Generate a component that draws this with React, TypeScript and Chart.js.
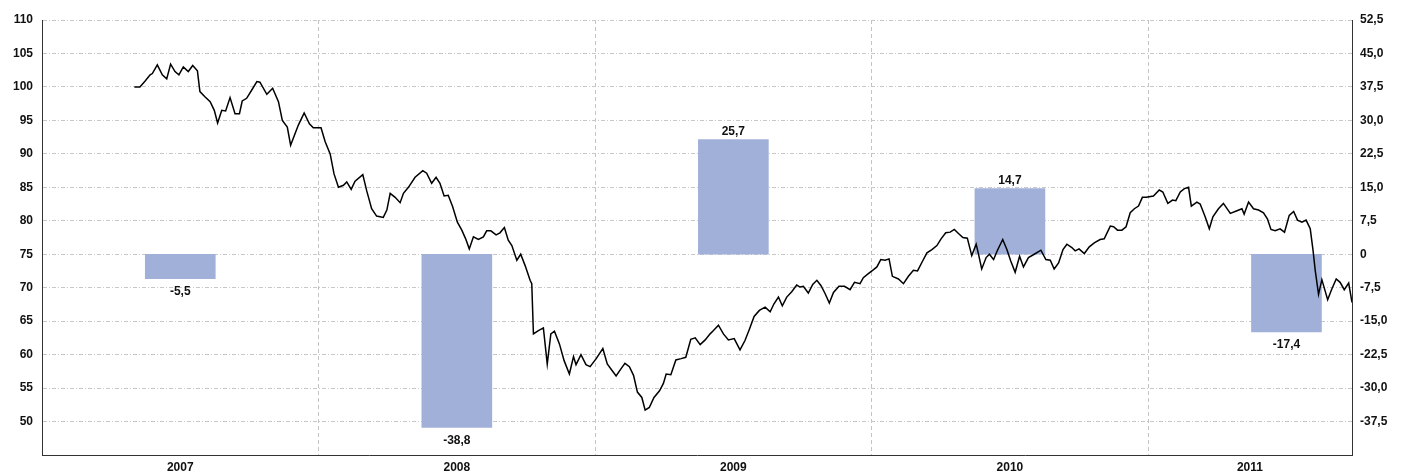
import React, { useEffect, useRef } from 'react';
import { Chart, registerables } from 'chart.js';
Chart.register(...registerables);

const lineYears = [
  2007.334, 2007.354, 2007.373, 2007.391, 2007.399, 2007.417, 2007.435, 2007.451, 2007.465, 2007.481,
  2007.495, 2007.511, 2007.529, 2007.545, 2007.562, 2007.571, 2007.590, 2007.608, 2007.623, 2007.635,
  2007.650, 2007.664, 2007.680, 2007.698, 2007.714, 2007.724, 2007.740, 2007.758, 2007.777, 2007.788,
  2007.813, 2007.834, 2007.855, 2007.869, 2007.887, 2007.899, 2007.927, 2007.948, 2007.967, 2007.981,
  2008.009, 2008.024, 2008.042, 2008.056, 2008.072, 2008.090, 2008.102, 2008.118, 2008.132, 2008.160,
  2008.174, 2008.192, 2008.210, 2008.234, 2008.247, 2008.259, 2008.277, 2008.295, 2008.307, 2008.325,
  2008.349, 2008.377, 2008.391, 2008.409, 2008.425, 2008.439, 2008.454, 2008.469, 2008.485, 2008.502,
  2008.518, 2008.532, 2008.545, 2008.560, 2008.578, 2008.596, 2008.608, 2008.623, 2008.642, 2008.656,
  2008.672, 2008.686, 2008.699, 2008.717, 2008.731, 2008.747, 2008.765, 2008.771, 2008.777, 2008.795,
  2008.813, 2008.827, 2008.840, 2008.853, 2008.871, 2008.888, 2008.907, 2008.922, 2008.931, 2008.949,
  2008.967, 2008.982, 2009.004, 2009.028, 2009.044, 2009.060, 2009.076, 2009.094, 2009.108, 2009.124,
  2009.139, 2009.153, 2009.169, 2009.181, 2009.196, 2009.213, 2009.233, 2009.247, 2009.257, 2009.274,
  2009.292, 2009.311, 2009.328, 2009.346, 2009.362, 2009.380, 2009.398, 2009.416, 2009.428, 2009.446,
  2009.464, 2009.482, 2009.503, 2009.524, 2009.542, 2009.558, 2009.575, 2009.594, 2009.615, 2009.633,
  2009.647, 2009.663, 2009.677, 2009.693, 2009.711, 2009.729, 2009.741, 2009.753, 2009.771, 2009.787,
  2009.802, 2009.817, 2009.832, 2009.847, 2009.862, 2009.882, 2009.902, 2009.922, 2009.938, 2009.958,
  2009.970, 2009.988, 2010.007, 2010.019, 2010.033, 2010.049, 2010.063, 2010.075, 2010.097, 2010.115,
  2010.133, 2010.151, 2010.166, 2010.182, 2010.200, 2010.218, 2010.236, 2010.251, 2010.268, 2010.284,
  2010.299, 2010.314, 2010.330, 2010.346, 2010.362, 2010.378, 2010.386, 2010.398, 2010.414, 2010.426,
  2010.441, 2010.455, 2010.474, 2010.489, 2010.503, 2010.519, 2010.535, 2010.549, 2010.567, 2010.588,
  2010.612, 2010.630, 2010.646, 2010.660, 2010.676, 2010.692, 2010.706, 2010.724, 2010.736, 2010.750,
  2010.769, 2010.787, 2010.805, 2010.826, 2010.841, 2010.863, 2010.875, 2010.889, 2010.905, 2010.920,
  2010.935, 2010.950, 2010.965, 2010.979, 2010.993, 2011.019, 2011.040, 2011.053, 2011.071, 2011.088,
  2011.100, 2011.116, 2011.131, 2011.146, 2011.156, 2011.176, 2011.188, 2011.206, 2011.221, 2011.234,
  2011.254, 2011.272, 2011.297, 2011.321, 2011.339, 2011.347, 2011.363, 2011.381, 2011.399, 2011.417,
  2011.431, 2011.444, 2011.459, 2011.477, 2011.493, 2011.510, 2011.526, 2011.540, 2011.556, 2011.571,
  2011.586, 2011.596, 2011.604, 2011.616, 2011.628, 2011.649, 2011.664, 2011.680, 2011.694, 2011.709,
  2011.725, 2011.737,
];

const lineValues = [
  100.0, 100.0, 100.9, 101.8, 102.0, 103.3, 101.8, 101.2, 103.4, 102.3,
  101.8, 103.0, 102.3, 103.2, 102.4, 99.3, 98.5, 97.8, 96.5, 94.6,
  96.5, 96.4, 98.4, 96.0, 96.0, 97.9, 98.3, 99.5, 100.8, 100.7,
  98.9, 99.8, 97.8, 95.0, 94.0, 91.3, 94.3, 96.1, 94.5, 93.9,
  93.9, 91.8, 90.0, 87.0, 85.0, 85.3, 85.8, 84.7, 85.9, 86.9,
  84.5, 81.8, 80.7, 80.5, 81.6, 84.1, 83.5, 82.7, 84.1, 85.0,
  86.5, 87.5, 87.1, 85.6, 86.5, 85.6, 83.7, 83.8, 82.1, 79.8,
  78.6, 77.3, 75.8, 77.6, 77.2, 77.6, 78.5, 78.5, 77.9, 78.2,
  79.0, 77.1, 76.3, 74.1, 75.0, 73.3, 71.1, 70.6, 63.1, 63.6,
  64.0, 58.6, 63.1, 63.5, 61.6, 59.1, 57.1, 59.7, 58.5, 60.0,
  58.5, 58.2, 59.4, 60.9, 58.6, 57.7, 56.8, 57.9, 58.7, 58.2,
  56.9, 54.4, 53.6, 51.7, 52.1, 53.6, 54.6, 55.7, 57.1, 57.0,
  59.2, 59.4, 59.6, 62.3, 62.5, 61.5, 62.2, 63.1, 63.6, 64.4,
  63.1, 62.2, 62.4, 60.7, 62.1, 63.8, 65.7, 66.6, 67.1, 66.4,
  67.6, 68.6, 67.3, 68.6, 69.4, 70.4, 70.1, 70.2, 69.2, 70.5,
  71.1, 70.3, 69.1, 67.7, 69.3, 70.2, 70.2, 69.7, 70.8, 70.6,
  71.5, 72.1, 72.7, 73.1, 74.2, 74.1, 74.3, 71.7, 71.3, 70.6,
  71.7, 72.6, 72.5, 73.8, 75.2, 75.7, 76.3, 77.3, 78.2, 78.3,
  78.7, 78.1, 77.5, 77.4, 74.8, 76.5, 75.1, 72.8, 74.5, 75.0,
  74.2, 75.6, 77.2, 75.7, 74.0, 72.3, 74.7, 73.1, 74.5, 75.0,
  75.6, 74.2, 74.1, 72.8, 73.7, 75.7, 76.5, 76.0, 75.5, 75.8,
  75.1, 76.1, 76.7, 77.2, 77.3, 79.2, 79.1, 78.6, 78.6, 79.1,
  81.2, 81.8, 82.2, 83.5, 83.5, 83.7, 84.6, 84.3, 82.6, 83.1,
  83.0, 84.3, 84.8, 85.0, 82.2, 82.8, 82.5, 80.6, 78.8, 80.6,
  81.8, 82.6, 81.1, 81.5, 81.8, 81.0, 82.8, 81.8, 81.6, 81.2,
  80.3, 78.7, 78.5, 78.8, 78.3, 80.8, 81.4, 80.1, 79.8, 80.1,
  78.8, 75.6, 72.6, 69.0, 71.2, 68.2, 69.8, 71.3, 70.8, 69.7,
  70.7, 67.8,
];

const barYears = [2007.5, 2008.5, 2009.5, 2010.5, 2011.5];
const barValues = [-5.5, -38.8, 25.7, 14.7, -17.4];

const yearLabels = ['2007', '2008', '2009', '2010', '2011'];
const yearLabelPositions = [2007.5, 2008.5, 2009.5, 2010.5, 2011.368];
const gridYears = [2008, 2009, 2010, 2011];
const leftTicks = [50, 55, 60, 65, 70, 75, 80, 85, 90, 95, 100, 105, 110];
const rightTicks = [-37.5, -30, -22.5, -15, -7.5, 0, 7.5, 15, 22.5, 30, 37.5, 45, 52.5];

const X_MIN = 2007;
const X_MAX = 2011.737;

const fmt = (v: number) => (v === 0 ? '0' : v.toFixed(1).replace('.', ','));
const FONT = '"Liberation Sans", Arial, Helvetica, sans-serif';
const TICK_FONT = { family: FONT, size: 12, weight: 'bold' as const };

export default function App() {
  const ref = useRef<HTMLCanvasElement>(null);
  useEffect(() => {
    document.body.style.margin = '0';
    if (!ref.current) return;

    const barLabelPlugin = {
      id: 'barLabels',
      afterDatasetsDraw(chart: any) {
        const meta = chart.getDatasetMeta(1);
        const ctx = chart.ctx;
        ctx.save();
        ctx.font = `bold 12px ${FONT}`;
        ctx.fillStyle = '#111';
        ctx.textAlign = 'center';
        meta.data.forEach((el: any, i: number) => {
          const v = barValues[i];
          if (v >= 0) {
            ctx.textBaseline = 'bottom';
            ctx.fillText(fmt(v), el.x, el.y - 2);
          } else {
            ctx.textBaseline = 'top';
            ctx.fillText(fmt(v), el.x, el.y + 7);
          }
        });
        ctx.restore();
      },
    };

    const chart = new Chart(ref.current, {
      type: 'line',
      data: {
        datasets: [
          {
            type: 'line',
            data: lineYears.map((x, i) => ({ x, y: lineValues[i] })),
            borderColor: '#000',
            borderWidth: 1.5,
            pointRadius: 0,
            tension: 0,
            xAxisID: 'x',
            yAxisID: 'y',
            order: 0,
          } as any,
          {
            type: 'bar',
            data: barYears.map((x, i) => ({ x, y: barValues[i] })),
            backgroundColor: '#a0b0d9',
            borderWidth: 0,
            barThickness: 70,
            xAxisID: 'x',
            yAxisID: 'y1',
            order: 1,
          } as any,
        ],
      },
      plugins: [barLabelPlugin],
      options: {
        animation: false,
        responsive: true,
        maintainAspectRatio: false,
        layout: { padding: { top: 20, left: 0, right: 0, bottom: 0 } },
        plugins: { legend: { display: false }, tooltip: { enabled: false } },
        scales: {
          x: {
            type: 'linear',
            position: 'bottom',
            min: X_MIN,
            max: X_MAX,
            offset: false,
            afterBuildTicks: (s: any) => {
              s.ticks = gridYears.map((v) => ({ value: v }));
            },
            afterFit: (s: any) => {
              s.height = 0;
            },
            ticks: { display: false },
            grid: { color: '#c4c4c4', lineWidth: 1, drawTicks: false, offset: false },
            border: { display: true, color: '#333', width: 1, dash: [4, 3] },
          },
          x2: {
            type: 'linear',
            position: 'bottom',
            min: X_MIN,
            max: X_MAX,
            offset: false,
            afterBuildTicks: (s: any) => {
              s.ticks = yearLabelPositions.map((v) => ({ value: v }));
            },
            afterFit: (s: any) => {
              s.height = 18;
            },
            ticks: {
              autoSkip: false,
              maxRotation: 0,
              padding: 5,
              color: '#111',
              font: TICK_FONT,
              callback: (_v: any, i: number) => yearLabels[i],
            },
            grid: { display: false, drawTicks: false, offset: false },
            border: { display: false },
          },
          y: {
            type: 'linear',
            position: 'left',
            min: 45,
            max: 110,
            afterBuildTicks: (s: any) => {
              s.ticks = leftTicks.map((v) => ({ value: v }));
            },
            afterFit: (s: any) => {
              s.width = 42;
            },
            ticks: {
              padding: 9,
              color: '#111',
              font: TICK_FONT,
              callback: (v: any) => String(v),
            },
            grid: { color: '#c8c8c8', lineWidth: 1, drawTicks: false },
            border: { display: true, color: '#333', width: 1, dash: [4, 2, 1, 2] },
          },
          y1: {
            type: 'linear',
            position: 'right',
            min: -45,
            max: 52.5,
            afterBuildTicks: (s: any) => {
              s.ticks = rightTicks.map((v) => ({ value: v }));
            },
            afterFit: (s: any) => {
              s.width = 54;
            },
            ticks: {
              padding: 8,
              color: '#111',
              font: TICK_FONT,
              callback: (v: any) => fmt(Number(v)),
            },
            grid: { display: false, drawTicks: false },
            border: { display: true, color: '#333', width: 1 },
          },
        },
      } as any,
    });
    return () => chart.destroy();
  }, []);
  return (
    <div style={{ width: 1406, height: 473, position: 'relative' }}>
      <canvas ref={ref} />
    </div>
  );
}
